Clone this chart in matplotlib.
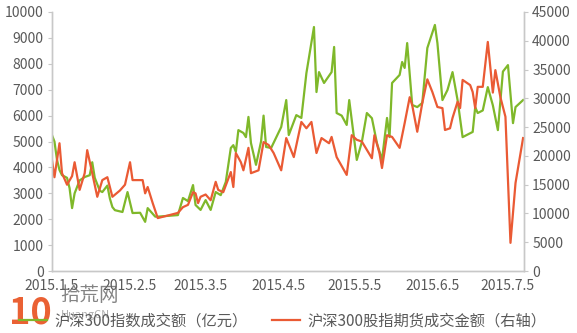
import matplotlib
matplotlib.use("Agg")
import matplotlib.pyplot as plt
import pandas as pd

plt.rcParams['font.family'] = ['Noto Sans CJK SC', 'DejaVu Sans']

# 沪深300指数成交额（亿元），左轴
idx_dates = ["01-05", "01-06", "01-07", "01-08", "01-09", "01-11", "01-12", "01-13", "01-14", "01-16",
             "01-18", "01-20", "01-21", "01-22", "01-24", "01-25", "01-27", "01-28", "01-29", "01-30",
             "02-02", "02-04", "02-06", "02-09", "02-11", "02-12", "02-15", "02-16", "02-24", "02-26",
             "02-28", "03-02", "03-03", "03-05", "03-07", "03-09", "03-11", "03-13", "03-15", "03-17",
             "03-18", "03-19", "03-20", "03-22", "03-23", "03-24", "03-25", "03-27", "03-29", "03-30",
             "03-31", "04-02", "04-06", "04-08", "04-09", "04-12", "04-14", "04-16", "04-19", "04-20",
             "04-21", "04-23", "04-26", "04-27", "04-28", "04-30", "05-02", "05-03", "05-04", "05-06",
             "05-08", "05-10", "05-12", "05-14", "05-16", "05-18", "05-19", "05-20", "05-23", "05-24",
             "05-25", "05-26", "05-28", "05-30", "06-01", "06-03", "06-06", "06-07", "06-09", "06-11",
             "06-13", "06-15", "06-17", "06-21", "06-22", "06-23", "06-25", "06-27", "06-29", "07-01",
             "07-03", "07-05", "07-07", "07-08", "07-11"]
idx_values = [5250, 5000, 4300, 3900, 3700, 3600, 3200, 2430, 3000, 3500,
              3630, 3700, 4200, 3600, 3100, 3050, 3300, 2800, 2470, 2350,
              2280, 3050, 2240, 2250, 1900, 2430, 2100, 2100, 2160, 2820,
              2700, 3320, 2550, 2360, 2740, 2360, 3050, 2930, 3440, 4750,
              4860, 4600, 5440, 5330, 5170, 5950, 4940, 4100, 5000, 6000,
              4790, 4750, 5560, 6600, 5250, 6020, 5910, 7640, 9420, 6910,
              7680, 7260, 7680, 8650, 6100, 6000, 5640, 6600, 5830, 4290,
              4980, 6100, 5900, 4940, 4290, 5910, 5170, 7260, 7570, 8070,
              7840, 8800, 6410, 6330, 6490, 8610, 9500, 8800, 6600, 6990,
              7680, 6600, 5170, 5370, 6330, 6100, 6200, 7100, 6400, 5440,
              7700, 7950, 5710, 6330, 6600]

# 沪深300股指期货成交金额，右轴
fut_dates = ["01-05", "01-06", "01-08", "01-09", "01-11", "01-13", "01-14", "01-16", "01-18", "01-19",
             "01-21", "01-23", "01-25", "01-27", "01-29", "02-01", "02-03", "02-05", "02-06", "02-10",
             "02-11", "02-12", "02-14", "02-16", "02-24", "02-26", "02-28", "03-02", "03-03", "03-04",
             "03-05", "03-07", "03-09", "03-11", "03-12", "03-14", "03-17", "03-18", "03-19", "03-21",
             "03-22", "03-24", "03-25", "03-28", "03-30", "04-01", "04-03", "04-06", "04-08", "04-11",
             "04-14", "04-16", "04-18", "04-20", "04-22", "04-25", "04-26", "04-28", "05-02", "05-04",
             "05-06", "05-08", "05-12", "05-13", "05-15", "05-16", "05-18", "05-20", "05-23", "05-25",
             "05-27", "05-28", "05-30", "06-01", "06-03", "06-05", "06-07", "06-09", "06-10", "06-12",
             "06-13", "06-15", "06-16", "06-17", "06-20", "06-21", "06-22", "06-23", "06-25", "06-27",
             "06-29", "06-30", "07-02", "07-04", "07-06", "07-08", "07-11"]
fut_values = [19300, 16300, 22200, 17000, 15000, 16500, 18900, 14100, 17000, 21000,
              17000, 12900, 15800, 16300, 12900, 14000, 15000, 18900, 15800, 15800,
              13500, 14600, 11800, 9200, 10100, 11100, 11500, 13700, 13500, 11800,
              12900, 13300, 12300, 15500, 14100, 13700, 17200, 14600, 20500, 18900,
              17500, 21400, 17000, 17500, 22400, 21900, 20500, 17500, 23100, 19800,
              25900, 24800, 25900, 20500, 23100, 22200, 23300, 19800, 16700, 23600,
              22800, 22500, 19600, 23600, 20500, 17900, 23600, 23300, 21400, 25700,
              30200, 28800, 24200, 29200, 33300, 31100, 28500, 28300, 24500, 24800,
              26600, 29400, 28300, 33200, 32300, 31100, 28300, 32000, 32000, 39800,
              31000, 34900, 30200, 26800, 4900, 15300, 23100]

tick_dates = ["2015-01-05", "2015-02-05", "2015-03-05", "2015-04-05", "2015-05-05", "2015-06-05", "2015-07-05"]
tick_labels = ["2015.1.5", "2015.2.5", "2015.3.5", "2015.4.5", "2015.5.5", "2015.6.5", "2015.7.5"]

green = "#7fb82a"
red = "#ea5a34"
grey_txt = "#595959"
axis_col = "#c8c8c8"

x1 = pd.to_datetime(["2015-" + d for d in idx_dates])
x2 = pd.to_datetime(["2015-" + d for d in fut_dates])

fig = plt.figure(figsize=(5.77, 3.33), dpi=100)
ax = fig.add_axes([0.090, 0.186, 0.818, 0.778])
ax2 = ax.twinx()

l1, = ax.plot(x1, idx_values, color=green, lw=1.6, label="沪深300指数成交额（亿元）")
l2, = ax2.plot(x2, fut_values, color=red, lw=1.6, label="沪深300股指期货成交金额（右轴）")

ax.set_xlim(pd.Timestamp("2015-01-05"), pd.Timestamp("2015-07-11 08:00"))
ax.set_ylim(0, 10000)
ax2.set_ylim(0, 45000)
ax.set_yticks(range(0, 10001, 1000))
ax2.set_yticks(range(0, 45001, 5000))
ax.set_xticks(pd.to_datetime(tick_dates))
ax.set_xticklabels(tick_labels)

for a in (ax, ax2):
    a.spines["top"].set_visible(False)
    for s in ("left", "right", "bottom"):
        a.spines[s].set_color(axis_col)
        a.spines[s].set_linewidth(1.0)
    a.tick_params(colors=axis_col, labelcolor=grey_txt, labelsize=10, length=3)
ax.tick_params(axis="x", length=0, pad=6)
ax.tick_params(axis="y", pad=3)
ax2.tick_params(axis="y", pad=3)

fig.legend(handles=[l1, l2], loc="center", bbox_to_anchor=(0.49, 0.035), ncol=2,
           frameon=False, fontsize=11, handlelength=1.8, columnspacing=1.6,
           handletextpad=0.5, labelcolor=grey_txt)

# 水印
fig.text(0.015, 0.03, "10", color="#e8501e", fontsize=26, fontweight="bold", alpha=0.9)
fig.text(0.105, 0.095, "拾荒网", color="#666666", fontsize=14, alpha=0.8)
fig.text(0.105, 0.045, "HuangCN", color="#777777", fontsize=8, alpha=0.6)

fig.savefig("out.png", dpi=100)
